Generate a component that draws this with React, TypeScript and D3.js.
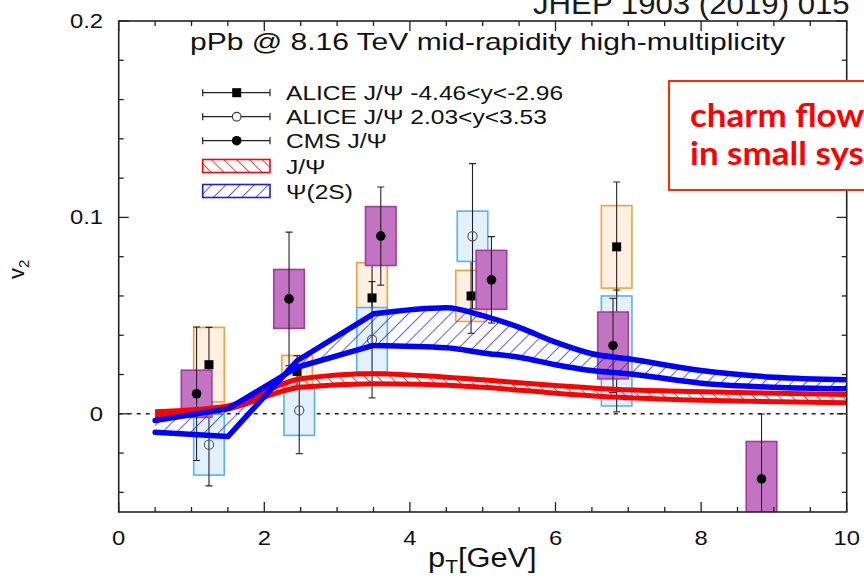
import React from "react";
import * as d3 from "d3";

// ---------- data ----------
const aliceBwdPt = [1.24, 2.45, 3.48, 4.84, 6.84];
const aliceBwdV2 = [0.025, 0.0216, 0.059, 0.06, 0.085];
const aliceBwdStat = [0.019, 0.008, 0.02, 0.019, 0.033];
const aliceBwdSys = [0.019, 0.0081, 0.018, 0.013, 0.021];

const aliceFwdPt = [1.24, 2.48, 3.48, 4.86, 6.84];
const aliceFwdV2 = [-0.0157, 0.0017, 0.0377, 0.0904, 0.032];
const aliceFwdStat = [0.021, 0.022, 0.0296, 0.037, 0.031];
const aliceFwdSys = [0.0155, 0.0127, 0.0164, 0.0128, 0.028];

const cmsPt = [1.07, 2.34, 3.6, 5.12, 6.79, 8.83];
const cmsV2 = [0.0102, 0.0585, 0.0905, 0.0682, 0.0348, -0.0331];
const cmsStat = [0.034, 0.034, 0.025, 0.022, 0.024, 0.033];
const cmsSys = [0.012, 0.015, 0.015, 0.015, 0.017, 0.019];

const jpsiPt = [0.5, 1.5, 2.5, 3.5, 4.14, 5, 6, 6.8, 7.7, 8.5, 10];
const jpsiUpper = [0.001, 0.004, 0.0178, 0.0204, 0.0195, 0.0173, 0.0144, 0.0125, 0.0115, 0.0108, 0.0098];
const jpsiLower = [-0.001, 0.0025, 0.0135, 0.0153, 0.015, 0.0135, 0.0105, 0.0085, 0.0072, 0.0065, 0.0056];

const psi2sPt = [0.5, 1.5, 2.45, 3.5, 4.5, 5.0, 5.5, 6.0, 6.5, 7.0, 8.0, 9.0, 10];
const psi2sA = [-0.0094, -0.0116, 0.027, 0.0509, 0.054, 0.05, 0.044, 0.0365, 0.0306, 0.028, 0.022, 0.0186, 0.0173];
const psi2sB = [-0.0034, 0.0025, 0.0237, 0.0348, 0.0336, 0.031, 0.0288, 0.025, 0.022, 0.0204, 0.0156, 0.0135, 0.0127];

const xTicks = [0, 2, 4, 6, 8, 10];
const yTicks = [0, 0.1, 0.2];
const yTickLabels = ["0", "0.1", "0.2"];

const legendLabels = [
  "ALICE J/\u03a8 -4.46<y<-2.96",
  "ALICE J/\u03a8 2.03<y<3.53",
  "CMS J/\u03a8",
  "J/\u03a8",
  "\u03a8(2S)",
];

// ---------- layout ----------
const W = 864;
const H = 588;
const L = 118.7, R = 846.7, T = 21, B = 512;
const FONT = "'Liberation Sans', Arial, Helvetica, sans-serif";
const SX = 1.19; // horizontal stretch of the reference's text

const x = d3.scaleLinear().domain([0, 10]).range([L, R]);
const y = d3.scaleLinear().domain([-0.05, 0.2]).range([B, T]);

const BOXW = 0.21;

function ST({ x: tx, y: ty, sx = SX, children, ...rest }: any) {
  return (
    <text transform={`translate(${tx},${ty}) scale(${sx},1)`} {...rest}>
      {children}
    </text>
  );
}

function Series({ pt, v2, stat, sys, fill, stroke, marker }: any) {
  return (
    <g>
      {pt.map((p: number, i: number) => {
        const cx = x(p);
        const cy = y(v2[i]);
        const x0 = x(p - BOXW), x1 = x(p + BOXW);
        const yt = y(v2[i] + sys[i]), yb = y(v2[i] - sys[i]);
        const et = y(v2[i] + stat[i]), eb = y(v2[i] - stat[i]);
        return (
          <g key={i}>
            <rect x={x0} y={yt} width={x1 - x0} height={yb - yt} fill={fill} stroke={stroke} strokeWidth={1.6} />
            <line x1={cx} x2={cx} y1={et} y2={eb} stroke="#222" strokeWidth={1.1} />
            <line x1={cx - 3.5} x2={cx + 3.5} y1={et} y2={et} stroke="#222" strokeWidth={1.1} />
            <line x1={cx - 3.5} x2={cx + 3.5} y1={eb} y2={eb} stroke="#222" strokeWidth={1.1} />
            {marker === "square" && <rect x={cx - 4.5} y={cy - 4.5} width={9} height={9} fill="#000" />}
            {marker === "dot" && <circle cx={cx} cy={cy} r={4.8} fill="#000" />}
            {marker === "open" && <circle cx={cx} cy={cy} r={4.6} fill="none" stroke="#555" strokeWidth={1.1} />}
          </g>
        );
      })}
    </g>
  );
}

const lineGen = (xs: number[], ys: number[], curve: any) =>
  d3
    .line<number>()
    .x((_, i) => x(xs[i]))
    .y((d) => y(d))
    .curve(curve)(ys) as string;
const areaGen = (xs: number[], a: number[], b: number[], curve: any) =>
  d3
    .area<number>()
    .x((_, i) => x(xs[i]))
    .y0((_, i) => y(b[i]))
    .y1((d) => y(d))
    .curve(curve)(a) as string;

// straight segments up to index k, smooth afterwards
const splitLine = (xs: number[], ys: number[], k: number) =>
  lineGen(xs.slice(0, k + 1), ys.slice(0, k + 1), d3.curveLinear) +
  lineGen(xs.slice(k), ys.slice(k), d3.curveMonotoneX);
const splitArea = (xs: number[], a: number[], b: number[], k: number) =>
  areaGen(xs.slice(0, k + 1), a.slice(0, k + 1), b.slice(0, k + 1), d3.curveLinear) +
  areaGen(xs.slice(k), a.slice(k), b.slice(k), d3.curveMonotoneX);

export default function App() {
  const xMinor = d3.range(0, 10.001, 0.5);
  const yMinor = d3.range(-0.04, 0.2001, 0.02);

  const legendRowY = [92.7, 116.7, 140.7, 166, 191];
  const lx0 = 202.7, lx1 = 270, lxm = 236.7, ltx = 286;
  const redCurve = d3.curveMonotoneX;

  return (
    <svg width={W} height={H} style={{ position: "absolute", left: 0, top: 0, background: "#fff" }} fontFamily={FONT}>
      <defs>
        <clipPath id="plotClip">
          <rect x={L} y={T} width={R - L} height={B - T} />
        </clipPath>
        <pattern id="hatchRed" patternUnits="userSpaceOnUse" width={9} height={9} patternTransform="rotate(-45)">
          <line x1={0} y1={0} x2={0} y2={9} stroke="#ff0000" strokeWidth={1.5} />
        </pattern>
        <pattern id="hatchBlue" patternUnits="userSpaceOnUse" width={10} height={10} patternTransform="rotate(45)">
          <line x1={0} y1={0} x2={0} y2={10} stroke="#1a1aff" strokeWidth={1.4} />
        </pattern>
      </defs>

      {/* JHEP reference text */}
      <ST x={533} y={14} sx={1.04} fontSize={30} fill="#1a1a1a">JHEP 1903 (2019) 015</ST>

      {/* plot content */}
      <g clipPath="url(#plotClip)">
        <line x1={L} x2={R} y1={y(0)} y2={y(0)} stroke="#222" strokeWidth={1.5} strokeDasharray="4,5" />
        <Series pt={aliceBwdPt} v2={aliceBwdV2} stat={aliceBwdStat} sys={aliceBwdSys} fill="#fff0e2" stroke="#ff9a3c" marker="square" />
        <Series pt={aliceFwdPt} v2={aliceFwdV2} stat={aliceFwdStat} sys={aliceFwdSys} fill="#e2f0ff" stroke="#55b0ff" marker="open" />
        <Series pt={cmsPt} v2={cmsV2} stat={cmsStat} sys={cmsSys} fill="#c274c2" stroke="#a03ca0" marker="dot" />

        {/* J/psi band */}
        <path d={areaGen(jpsiPt, jpsiUpper, jpsiLower, redCurve)} fill="url(#hatchRed)" />
        <path d={lineGen(jpsiPt, jpsiUpper, redCurve)} fill="none" stroke="#ff0000" strokeWidth={5} strokeLinejoin="round" />
        <path d={lineGen(jpsiPt, jpsiLower, redCurve)} fill="none" stroke="#ff0000" strokeWidth={5} strokeLinejoin="round" />

        {/* psi(2S) band */}
        <path d={splitArea(psi2sPt, psi2sA, psi2sB, 3)} fill="url(#hatchBlue)" />
        <path d={splitLine(psi2sPt, psi2sA, 3)} fill="none" stroke="#0000ff" strokeWidth={5.5} strokeLinejoin="round" strokeLinecap="round" />
        <path d={splitLine(psi2sPt, psi2sB, 3)} fill="none" stroke="#0000ff" strokeWidth={5.5} strokeLinejoin="round" strokeLinecap="round" />
      </g>

      {/* frame and ticks */}
      <rect x={L} y={T} width={R - L} height={B - T} fill="none" stroke="#222" strokeWidth={1.6} />
      {xMinor.map((v, i) => {
        const major = Math.abs(v / 2 - Math.round(v / 2)) < 1e-6;
        const len = major ? 10 : 5;
        return (
          <g key={"xt" + i}>
            <line x1={x(v)} x2={x(v)} y1={B} y2={B - len} stroke="#222" strokeWidth={1.3} />
            <line x1={x(v)} x2={x(v)} y1={T} y2={T + len} stroke="#222" strokeWidth={1.3} />
          </g>
        );
      })}
      {yMinor.map((v, i) => {
        const major = Math.abs(v / 0.1 - Math.round(v / 0.1)) < 1e-6;
        const len = major ? 10 : 5;
        return (
          <g key={"yt" + i}>
            <line x1={L} x2={L + len} y1={y(v)} y2={y(v)} stroke="#222" strokeWidth={1.3} />
            <line x1={R} x2={R - len} y1={y(v)} y2={y(v)} stroke="#222" strokeWidth={1.3} />
          </g>
        );
      })}

      {/* tick labels */}
      {xTicks.map((v) => (
        <ST key={"xl" + v} x={x(v)} y={544.5} fontSize={20} textAnchor="middle" fill="#111">{v}</ST>
      ))}
      {yTicks.map((v, i) => (
        <ST key={"yl" + v} x={103} y={y(v) + 7} fontSize={20} textAnchor="end" fill="#111">{yTickLabels[i]}</ST>
      ))}

      {/* axis titles */}
      <ST x={428} y={567} sx={1.1} fontSize={28} fill="#111">
        p<tspan fontSize={19} dy={6}>T</tspan><tspan dy={-6}>[GeV]</tspan>
      </ST>
      <text transform="translate(24,279) rotate(-90)" fontSize={22} fill="#111">
        v<tspan fontSize={15} dy={5}>2</tspan>
      </text>

      {/* title */}
      <ST x={190} y={50} sx={1.25} fontSize={24} fill="#111">pPb @ 8.16 TeV mid-rapidity high-multiplicity</ST>

      {/* legend */}
      {[0, 1, 2].map((k) => (
        <g key={"lg" + k}>
          <line x1={lx0} x2={lx1} y1={legendRowY[k]} y2={legendRowY[k]} stroke="#222" strokeWidth={1.2} />
          <line x1={lx0} x2={lx0} y1={legendRowY[k] - 3.5} y2={legendRowY[k] + 3.5} stroke="#222" strokeWidth={1.2} />
          <line x1={lx1} x2={lx1} y1={legendRowY[k] - 3.5} y2={legendRowY[k] + 3.5} stroke="#222" strokeWidth={1.2} />
        </g>
      ))}
      <rect x={lxm - 4.5} y={legendRowY[0] - 4.5} width={9} height={9} fill="#000" />
      <circle cx={lxm} cy={legendRowY[1]} r={4.3} fill="#fff" stroke="#333" strokeWidth={1.1} />
      <circle cx={lxm} cy={legendRowY[2]} r={4.8} fill="#000" />
      <rect x={lx0} y={legendRowY[3] - 6.5} width={lx1 - lx0} height={13} fill="url(#hatchRed)" stroke="#ff0000" strokeWidth={1.6} />
      <rect x={lx0} y={legendRowY[4] - 6.5} width={lx1 - lx0} height={13} fill="url(#hatchBlue)" stroke="#1a1aff" strokeWidth={1.6} />
      {legendLabels.map((t, k) => (
        <ST key={"lt" + k} x={ltx} y={legendRowY[k] + 7.5} sx={1.17} fontSize={21} fill="#111">{t}</ST>
      ))}

      {/* red annotation box */}
      <rect x={669} y={81} width={260} height={109} fill="#fff" stroke="#ff2a00" strokeWidth={2} />
      <ST x={690} y={127} sx={1.06} fontSize={33} fontWeight="bold" fill="#ff0000" fontFamily="Lato, 'Open Sans', sans-serif">charm flow</ST>
      <ST x={690} y={165} sx={1.06} fontSize={33} fontWeight="bold" fill="#ff0000" fontFamily="Lato, 'Open Sans', sans-serif">in small systems</ST>
    </svg>
  );
}
